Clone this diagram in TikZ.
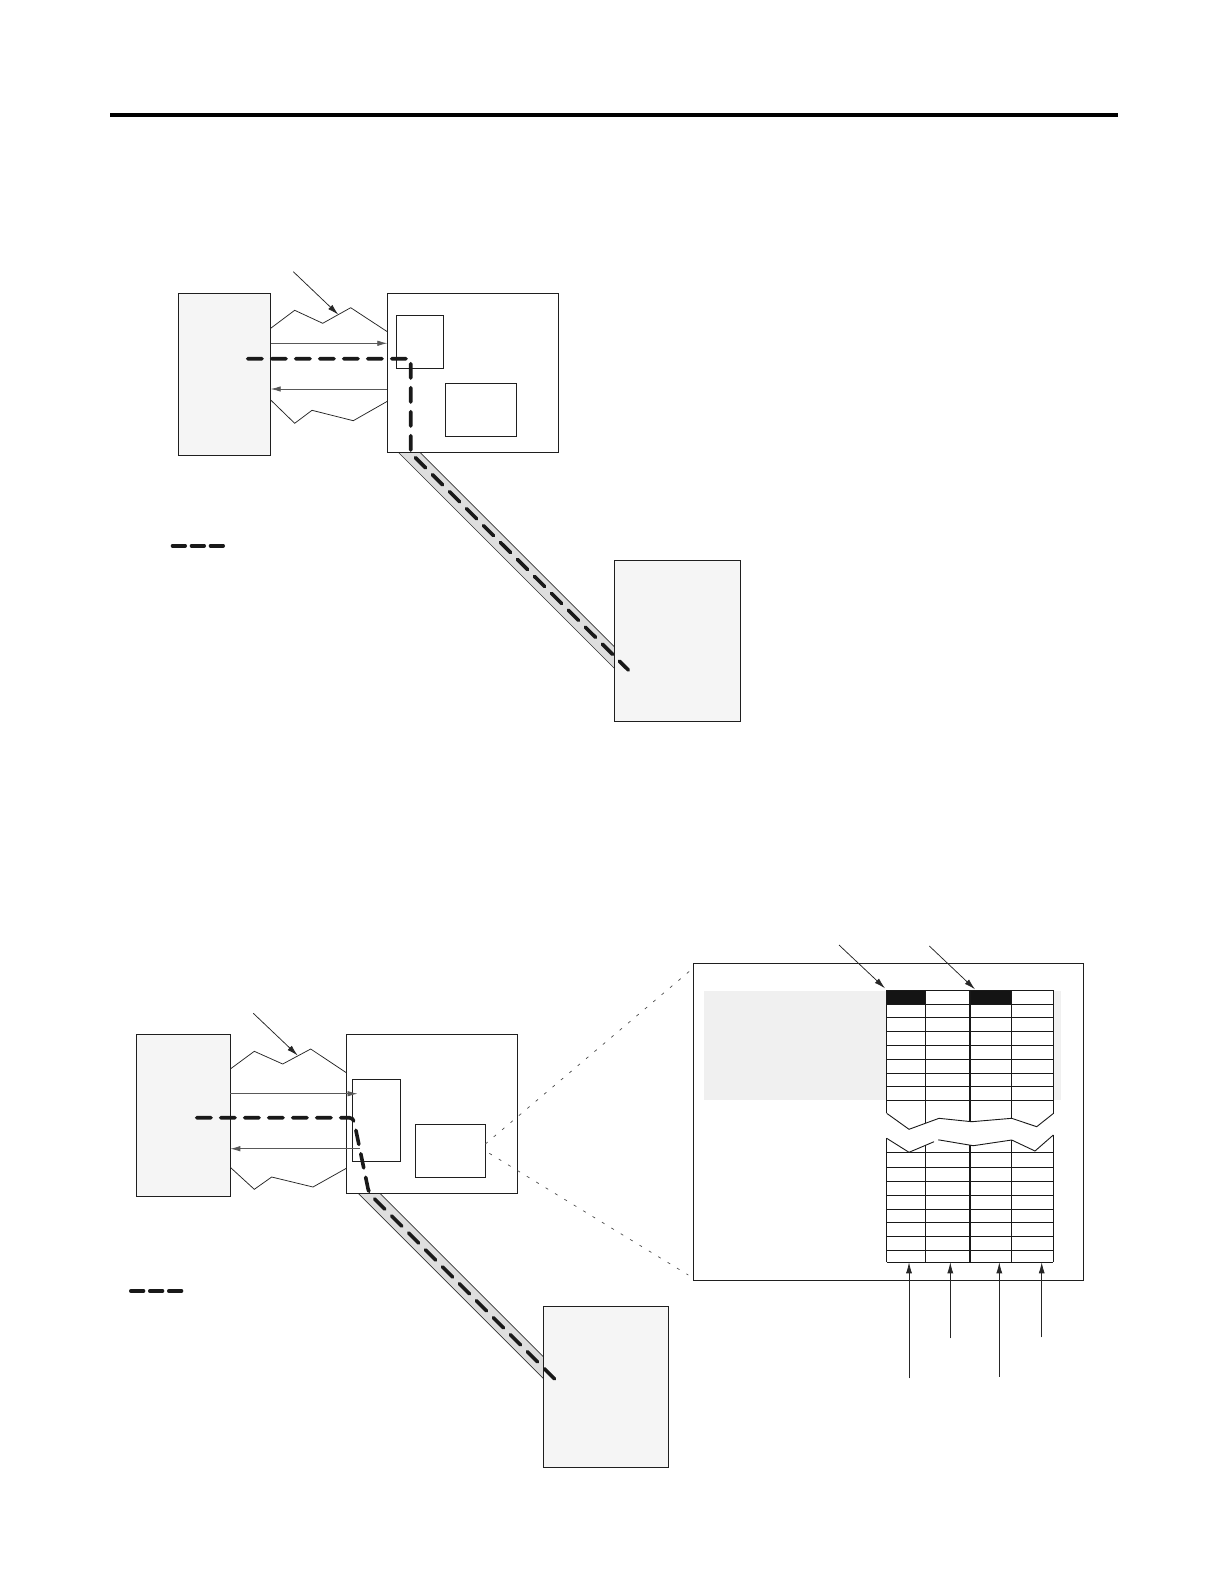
\documentclass[tikz,border=0pt]{standalone}
\usetikzlibrary{arrows.meta}
\begin{document}
\begin{tikzpicture}[x=1pt,y=-1pt,
  box/.style={draw=black!88, line width=1pt, inner sep=0pt, outer sep=0pt, anchor=north west, fill=white},
  graybox/.style={box, fill=black!4},
  zig/.style={draw=black!85, line width=0.75pt},
  sig/.style={draw=black!65, line width=0.8pt, -{Latex[length=10pt,width=5.5pt]}},
  pointer/.style={draw=black!85, line width=0.75pt, -{Latex[length=11pt,width=6pt]}},
  route/.style={draw=black!90, line width=3.6pt, line cap=round, dash pattern=on 14.4pt off 9.6pt},
  legendroute/.style={route, dash pattern=on 12.7pt off 6.3pt},
  cable/.style={fill=black!13},
  cableedge/.style={draw=black!80, line width=0.7pt},
  zoomline/.style={draw=black!70, line width=0.7pt, dash pattern=on 3pt off 8pt},
  gridline/.style={draw=black!90, line width=0.9pt},
  thickcol/.style={draw=black!90, line width=1.8pt},
]
\useasboundingbox (0,0) rectangle (1224,1584);
\fill[white] (0,0) rectangle (1224,1584);
\draw[line width=4pt] (110,115.3) -- (1118,115.3);

%%% Diagram 1
\fill[cable] (398.3,452.3) -- (420,452.3) -- (614.3,646.7) -- (614.3,668.3) -- cycle;
\draw[cableedge] (398.3,452.3) -- (614.3,668.3);
\draw[cableedge] (420,452.3) -- (614.3,646.7);
\node[graybox, minimum width=92.4pt, minimum height=162pt] (h1) at (178.3,293.3) {};
\node[box, minimum width=171.4pt, minimum height=159pt] (m1) at (387.3,293.3) {};
\node[box, minimum width=47.4pt, minimum height=53pt] (p1) at (396.3,315.3) {};
\node[box, minimum width=71.4pt, minimum height=53pt] (q1) at (445.3,383.3) {};
\node[graybox, minimum width=126.4pt, minimum height=161pt] (d1) at (614.3,560.3) {};
\draw[zig] (h1.east |- 0,328.3) -- (294.7,310.3) -- (322.7,323.3) -- (350.7,307.7) -- (m1.west |- 0,331.7);
\draw[zig] (h1.east |- 0,400) -- (294.7,423.3) -- (312,410.3) -- (353.3,420.7) -- (m1.west |- 0,401.3);
\coordinate (ptr1) at (293.3,271.7);
\draw[pointer] (ptr1) -- (338.3,314.6);
\draw[sig] (h1.east |- 0,343.3) -- (m1.west |- 0,343.3);
\draw[sig] (m1.west |- 0,389) -- (h1.east |- 0,389);
\coordinate (r1a) at (247.7,358.7);
\coordinate (r1b) at (410.7,358.7);
\coordinate (r1c) at (410.7,453);
\coordinate (r1d) at (628.3,670);
\draw[route] (r1a) -- (r1b) -- (r1c) -- (r1d);
\coordinate (lg1a) at (172.5,545.7);
\coordinate (lg1b) at (223.2,545.7);
\draw[legendroute] (lg1a) -- (lg1b);

%%% Diagram 2
\fill[cable] (358.3,1193.3) -- (380,1193.3) -- (543.3,1356.6) -- (543.3,1378.3) -- cycle;
\draw[cableedge] (358.3,1193.3) -- (543.3,1378.3);
\draw[cableedge] (380,1193.3) -- (543.3,1356.6);
\node[graybox, minimum width=94pt, minimum height=162pt] (h2) at (136.3,1034.3) {};
\node[box, minimum width=171pt, minimum height=158.7pt] (m2) at (346.3,1034.3) {};
\node[box, minimum width=48pt, minimum height=82pt] (p2) at (352.3,1079.3) {};
\node[box, minimum width=70pt, minimum height=53pt] (q2) at (415.3,1124.3) {};
\node[graybox, minimum width=125.4pt, minimum height=161pt] (d2) at (543.3,1306) {};
\draw[zig] (h2.east |- 0,1069) -- (254.3,1051.3) -- (282.7,1064) -- (310.7,1049) -- (m2.west |- 0,1072.7);
\draw[zig] (h2.east |- 0,1167.3) -- (254.3,1189.3) -- (271.7,1177) -- (313,1187) -- (m2.west |- 0,1168.3);
\coordinate (ptr2) at (253.3,1013.3);
\draw[pointer] (ptr2) -- (297.7,1055.5);
\draw[sig] (h2.east |- 0,1093.7) -- (357.5,1093.7);
\draw[sig] (360,1148.7) -- (h2.east |- 0,1148.7);
\coordinate (r2a) at (196.7,1117.7);
\coordinate (r2b) at (353.3,1117.7);
\coordinate (r2c) at (369,1193.3);
\coordinate (r2d) at (556.7,1381);
\draw[route, rounded corners=4pt] (r2a) -- (r2b) -- (r2c) -- (r2d);
\coordinate (lg2a) at (130.8,1291);
\coordinate (lg2b) at (181.5,1291);
\draw[legendroute] (lg2a) -- (lg2b);

%%% Zoomed view
\node[box, minimum width=390pt, minimum height=317pt] (z2) at (693,963.3) {};
\draw[zoomline] (q2.east |- 0,1144) -- (691.7,969.3);
\draw[zoomline] (489.3,1153.3) -- (688.3,1275);
\fill[black!6] (704,990.7) rectangle (1061,1100);

% upper table part
\fill[white] (886.7,990.3) rectangle (1053.3,1113.3);
\fill[black!92] (886.7,990.3) rectangle (925.7,1004.3);
\fill[black!92] (970,990.3) rectangle (1011.5,1004.3);
\foreach \yy in {990.3,1004.3,1017.7,1031.7,1045.7,1059.5,1073.5,1086.5,1100.5}
  \draw[gridline] (886.7,\yy) -- (1053.3,\yy);
\draw[gridline] (886.7,990.3) -- (886.7,1113.3);
\draw[gridline] (1053.3,990.3) -- (1053.3,1113.5);
\draw[gridline] (925.7,990.3) -- (925.7,1123.2);
\draw[thickcol] (970,990.3) -- (970,1121.5);
\draw[gridline] (1011.5,990.3) -- (1011.5,1118.3);
\draw[gridline] (886.7,1113.3) -- (909,1129.3) -- (939,1118.3) -- (971.7,1121.7) -- (1011.7,1118.3) -- (1036.7,1126.7) -- (1053.3,1113.5);

% lower table part
\foreach \yy in {1152.3,1167.5,1181.7,1195.7,1209,1222.7,1236.7,1250,1262.3}
  \draw[gridline] (886.7,\yy) -- (1053.3,\yy);
\draw[gridline] (886.7,1138.3) -- (886.7,1262.3);
\draw[gridline] (1053.3,1135) -- (1053.3,1262.3);
\draw[gridline] (925.7,1145) -- (925.7,1262.3);
\draw[thickcol] (970,1145.2) -- (970,1262.3);
\draw[gridline] (1011.5,1140) -- (1011.5,1262.3);
\draw[gridline] (886.7,1138.3) -- (909,1152.3) -- (934,1141.7);
\draw[gridline] (938.3,1139.8) -- (973.3,1145.7) -- (1011.7,1140) -- (1035,1151) -- (1053.3,1135);

% pointers to table
\coordinate (tp1) at (839,945);
\coordinate (tp2) at (929.3,946);
\draw[pointer] (tp1) -- (885,988.3);
\draw[pointer] (tp2) -- (975,989.3);
\coordinate (ua) at (909,1378.3);
\coordinate (ub) at (950.3,1338.3);
\coordinate (uc) at (999.3,1376.7);
\coordinate (ud) at (1041.7,1337.3);
\draw[pointer] (ua) -- (909,1262.3);
\draw[pointer] (ub) -- (950.3,1262.3);
\draw[pointer] (uc) -- (999.3,1262.3);
\draw[pointer] (ud) -- (1041.7,1262.3);
\end{tikzpicture}
\end{document}
